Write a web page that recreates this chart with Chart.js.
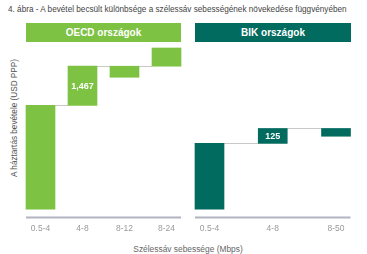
<!DOCTYPE html>
<html>
<head>
<meta charset="utf-8">
<script src="https://cdn.jsdelivr.net/npm/chart.js@4/dist/chart.umd.min.js"></script>
<style>
  html, body { margin:0; padding:0; background:#fff; }
  body { width:367px; height:254px; position:relative; overflow:hidden; font-family:"Liberation Sans", Arial, sans-serif; }
  .abs { position:absolute; }
  #title { left:8px; top:5px; font-size:8.2px; color:#444; white-space:nowrap; }
  .hdr { top:23px; height:19px; line-height:19px; color:#fff; font-size:10px; font-weight:bold; text-align:center; }
  #h1 { left:26px; width:155px; background:#7dc242; }
  #h2 { left:195px; width:156px; background:#006b5e; }
  #ytitle { left:14px; top:118px; transform:translate(-50%,-50%) rotate(-90deg); font-size:8.2px; color:#555; white-space:nowrap; }
  #xtitle { left:188px; top:249px; transform:translate(-50%,-50%); font-size:8.4px; color:#666; white-space:nowrap; }
  canvas { position:absolute; top:0; }
  #c1 { left:0; }
  #c2 { left:180px; }
</style>
</head>
<body>
<div id="title" class="abs">4. ábra - A bevétel becsült különbsége a szélessáv sebességének növekedése függvényében</div>
<div id="h1" class="abs hdr">OECD országok</div>
<div id="h2" class="abs hdr">BIK országok</div>
<div id="ytitle" class="abs">A háztartás bevétele (USD PPP)</div>
<div id="xtitle" class="abs">Szélessáv sebessége (Mbps)</div>
<canvas id="c1" width="190" height="254"></canvas>
<canvas id="c2" width="187" height="254"></canvas>
<script>
// OECD panel
const oecdCategories = ['0.5-4', '4-8', '8-12', '8-24'];
const oecdStart = [0, 3900, 5367, 5367];
const oecdChange = [3900, 1467, -415, 683];
const oecdLabels = ['', '1,467', '', ''];

// BIK panel
const bikCategories = ['0.5-4', '4-8', '8-50'];
const bikStart = [0, 550, 675];
const bikChange = [550, 125, -65];
const bikLabels = ['', '125', ''];

const FONT = '"Liberation Sans", Arial, sans-serif';

const waterfallPlugin = {
  id: 'waterfallDeco',
  beforeDatasetsDraw(chart, args, opts) {
    const ctx = chart.ctx;
    const meta = chart.getDatasetMeta(0);
    const y = chart.scales.y;
    const bars = meta.data;
    const starts = opts.starts;
    ctx.save();
    ctx.strokeStyle = '#c8c8c8';
    ctx.lineWidth = 1;
    for (let i = 0; i < bars.length - 1; i++) {
      const a = bars[i].getProps(['x','width'], true);
      const b = bars[i+1].getProps(['x','width'], true);
      const yy = Math.round(y.getPixelForValue(starts[i+1])) + 0.5;
      ctx.beginPath();
      ctx.moveTo(a.x + a.width/2, yy);
      ctx.lineTo(b.x - b.width/2, yy);
      ctx.stroke();
    }
    const f = bars[0].getProps(['x','width'], true);
    const l = bars[bars.length-1].getProps(['x','width'], true);
    ctx.strokeStyle = '#b2b4c2';
    ctx.lineWidth = 2;
    ctx.beginPath();
    ctx.moveTo(f.x - f.width/2, chart.chartArea.bottom - 1);
    ctx.lineTo(l.x + l.width/2, chart.chartArea.bottom - 1);
    ctx.stroke();
    ctx.restore();
  },
  afterDatasetsDraw(chart, args, opts) {
    const ctx = chart.ctx;
    const meta = chart.getDatasetMeta(0);
    ctx.save();
    ctx.fillStyle = '#fff';
    ctx.font = 'bold 9px ' + FONT;
    ctx.textAlign = 'center';
    ctx.textBaseline = 'middle';
    meta.data.forEach((bar, i) => {
      const txt = opts.labels[i];
      if (!txt) return;
      const p = bar.getProps(['x','y','base'], true);
      ctx.fillText(txt, p.x, (p.y + p.base) / 2 + 0.5);
    });
    ctx.restore();
  }
};

function makeChart(id, cats, starts, changes, labels, color, yMin, yMax, padL, padR) {
  const data = starts.map((s, i) => [s, s + changes[i]]);
  return new Chart(document.getElementById(id), {
    type: 'bar',
    data: {
      labels: cats,
      datasets: [{
        data: data,
        backgroundColor: color,
        borderWidth: 0,
        barThickness: 29,
        clip: false
      }]
    },
    options: {
      responsive: false,
      animation: false,
      events: [],
      layout: { padding: { left: padL, right: padR, top: 48, bottom: 15.3 } },
      plugins: {
        legend: { display: false },
        tooltip: { enabled: false },
        title: { display: false },
        waterfallDeco: { starts: starts, labels: labels }
      },
      scales: {
        x: {
          offset: false,
          grid: { display: false, drawTicks: false },
          border: { display: false },
          ticks: { color: '#9a9a9a', font: { family: FONT, size: 8.5 }, padding: 5, maxRotation: 0, autoSkip: false }
        },
        y: { display: false, min: yMin, max: yMax }
      }
    },
    plugins: [waterfallPlugin]
  });
}

makeChart('c1', oecdCategories, oecdStart, oecdChange, oecdLabels, '#7dc242', -348, 6050, 40.5, 23.5);
makeChart('c2', bikCategories, bikStart, bikChange, bikLabels, '#006b5e', -78, 1348, 29.5, 31);
</script>
</body>
</html>
